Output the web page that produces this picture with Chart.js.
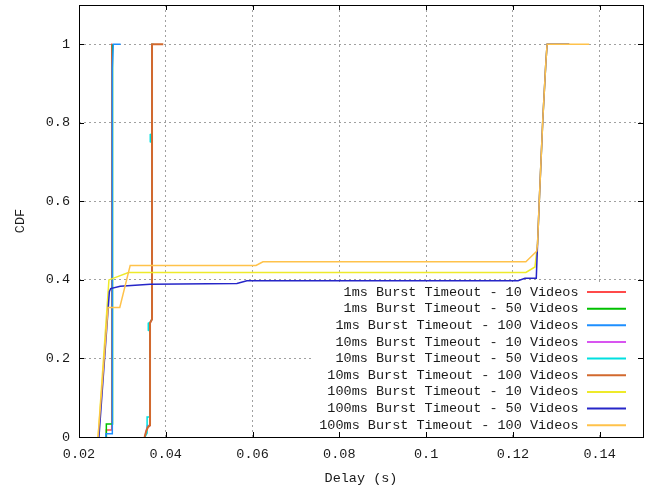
<!DOCTYPE html>
<html>
<head>
<meta charset="utf-8">
<title>Delay CDF</title>
<script src="https://cdn.jsdelivr.net/npm/chart.js@4.4.0/dist/chart.umd.min.js"></script>
<style>
  html, body { margin: 0; padding: 0; background: #fff; }
  #wrap { width: 653px; height: 491px; }
</style>
</head>
<body>
<div id="wrap"><canvas id="cdf" width="653" height="491"></canvas></div>
<script>
// Axis ticks
const xTickValues = [0.02, 0.04, 0.06, 0.08, 0.10, 0.12, 0.14];
const xTickLabels = ['0.02', '0.04', '0.06', '0.08', '0.1', '0.12', '0.14'];
const yTickValues = [0, 0.2, 0.4, 0.6, 0.8, 1.0];
const yTickLabels = ['0', '0.2', '0.4', '0.6', '0.8', '1'];

// Series names, in plotting order
const seriesNames = [
  '1ms Burst Timeout - 10 Videos',
  '1ms Burst Timeout - 50 Videos',
  '1ms Burst Timeout - 100 Videos',
  '10ms Burst Timeout - 10 Videos',
  '10ms Burst Timeout - 50 Videos',
  '10ms Burst Timeout - 100 Videos',
  '100ms Burst Timeout - 10 Videos',
  '100ms Burst Timeout - 50 Videos',
  '100ms Burst Timeout - 100 Videos'
];

// CDF curves: delay (s) and cumulative fraction
const delay1ms10   = [0.0263, 0.0263, 0.02755, 0.02755, 0.0277];
const cdf1ms10     = [0, 0.018, 0.018, 1, 1];
const delay1ms50   = [0.0263, 0.0263, 0.02765, 0.02765, 0.0278];
const cdf1ms50     = [0, 0.033, 0.033, 1, 1];
const delay1ms100  = [0.0262, 0.0262, 0.02768, 0.02768, 0.0279, 0.0296];
const cdf1ms100    = [0, 0.008, 0.008, 0.94, 1, 1];

const delay10ms10  = [0.0352, 0.03575, 0.03637, 0.03637, 0.03683, 0.03683, 0.0369];
const cdf10ms10    = [0, 0.029, 0.029, 0.29, 0.30, 1, 1];
const delay10ms50  = [0.0352, 0.0357, 0.0357, 0.03637, 0.03637, 0.03597, 0.03597, 0.03637, 0.03683, 0.03683, 0.03643, 0.03643, 0.03683, 0.03683, 0.0372];
const cdf10ms50    = [0, 0.01, 0.051, 0.051, 0.27, 0.272, 0.29, 0.292, 0.30, 0.75, 0.752, 0.77, 0.772, 1, 1];
const delay10ms100 = [0.03512, 0.0355, 0.0359, 0.03637, 0.03637, 0.03683, 0.03683, 0.03943];
const cdf10ms100   = [0, 0.015, 0.025, 0.03, 0.29, 0.30, 1, 1];

const delay100ms10  = [0.0244, 0.0269, 0.0314, 0.1230, 0.1251, 0.1257, 0.1261, 0.1269, 0.1276, 0.1279, 0.1330];
const cdf100ms10    = [0, 0.40, 0.419, 0.419, 0.433, 0.493, 0.603, 0.807, 0.952, 1, 1];
const delay100ms50  = [0.0246, 0.0270, 0.0273, 0.0295, 0.0364, 0.0564, 0.0587, 0.1212, 0.1228, 0.1254, 0.1257, 0.1261, 0.1269, 0.1276, 0.1279, 0.1330];
const cdf100ms50    = [0, 0.37, 0.378, 0.384, 0.389, 0.391, 0.398, 0.398, 0.404, 0.404, 0.493, 0.603, 0.807, 0.952, 1, 1];
const delay100ms100 = [0.0244, 0.0267, 0.0294, 0.0318, 0.0608, 0.0624, 0.1230, 0.1255, 0.1257, 0.1261, 0.1269, 0.1276, 0.1279, 0.1376];
const cdf100ms100   = [0, 0.33, 0.33, 0.437, 0.437, 0.446, 0.446, 0.473, 0.493, 0.603, 0.807, 0.952, 1, 1];

const seriesDelays = [delay1ms10, delay1ms50, delay1ms100, delay10ms10, delay10ms50, delay10ms100, delay100ms10, delay100ms50, delay100ms100];
const seriesCdfs   = [cdf1ms10, cdf1ms50, cdf1ms100, cdf10ms10, cdf10ms50, cdf10ms100, cdf100ms10, cdf100ms50, cdf100ms100];
const seriesColors = ['#ff4a4a', '#00c000', '#1e8fff', '#d855f0', '#00e0e0', '#d2692e', '#eeea2a', '#2626c8', '#ffc24a'];
const seriesWidths = [1.5, 1.5, 1.5, 1.5, 1.5, 2, 1.5, 1.5, 1.5];

const FONT = { family: '"Liberation Mono", "DejaVu Sans Mono", monospace', size: 13.5 };
const TEXT = '#1a1a1a';

const datasets = seriesNames.map((name, i) => ({
  label: name,
  data: seriesDelays[i].map((x, k) => ({ x: x, y: seriesCdfs[i][k] })),
  borderColor: seriesColors[i],
  backgroundColor: seriesColors[i],
  borderWidth: seriesWidths[i],
  showLine: true,
  fill: false,
  tension: 0,
  order: -i   // later series are drawn on top
}));

// Key box in the lower right of the plot, opaque, text right-aligned before the sample line
const seriesKey = {
  id: 'seriesKey',
  afterDatasetsDraw(chart) {
    const { ctx, chartArea: a } = chart;
    ctx.save();
    ctx.fillStyle = '#ffffff';
    ctx.fillRect(a.left + 233, a.bottom - 153, a.right - a.left - 234, 149);
    ctx.font = FONT.size + 'px ' + FONT.family;
    ctx.textAlign = 'right';
    ctx.textBaseline = 'middle';
    chart.data.datasets.forEach((ds, i) => {
      const y = a.bottom - 145 + i * 16.65;
      ctx.fillStyle = TEXT;
      ctx.fillText(ds.label, a.right - 64.5, y);
      ctx.strokeStyle = ds.borderColor;
      ctx.lineWidth = 2;
      ctx.beginPath();
      ctx.moveTo(a.right - 56, y);
      ctx.lineTo(a.right - 17, y);
      ctx.stroke();
    });
    ctx.restore();
  }
};

// Plot border with inward ticks on all four sides
const frameTicks = {
  id: 'frameTicks',
  afterDraw(chart) {
    const { ctx, chartArea: a, scales } = chart;
    const L = 5;
    ctx.save();
    ctx.strokeStyle = '#000';
    ctx.lineWidth = 1;
    ctx.beginPath();
    scales.x.ticks.forEach(t => {
      const px = Math.round(scales.x.getPixelForValue(t.value)) + 0.5;
      ctx.moveTo(px, a.bottom); ctx.lineTo(px, a.bottom - L);
      ctx.moveTo(px, a.top); ctx.lineTo(px, a.top + L);
    });
    scales.y.ticks.forEach(t => {
      const py = Math.round(scales.y.getPixelForValue(t.value)) + 0.5;
      ctx.moveTo(a.left, py); ctx.lineTo(a.left + L, py);
      ctx.moveTo(a.right, py); ctx.lineTo(a.right - L, py);
    });
    ctx.stroke();
    ctx.strokeRect(Math.round(a.left) + 0.5, Math.round(a.top) + 0.5,
                   Math.round(a.right - a.left), Math.round(a.bottom - a.top));
    ctx.restore();
  }
};

new Chart(document.getElementById('cdf'), {
  type: 'scatter',
  data: { datasets: datasets },
  plugins: [seriesKey, frameTicks],
  options: {
    responsive: false,
    animation: false,
    devicePixelRatio: 1,
    layout: { padding: { left: 0, right: 10, top: 5, bottom: 0 } },
    elements: { point: { radius: 0, hoverRadius: 0 }, line: { borderJoinStyle: 'miter' } },
    plugins: { legend: { display: false }, tooltip: { enabled: false } },
    scales: {
      x: {
        type: 'linear',
        min: 0.02,
        max: 0.15,
        afterBuildTicks: s => { s.ticks = xTickValues.map(v => ({ value: v })); },
        afterFit: s => { s.height = 54; s.paddingLeft = 0; s.paddingRight = 0; },
        ticks: {
          callback: (v, i) => xTickLabels[i],
          font: FONT, color: TEXT, padding: 9, maxRotation: 0, autoSkip: false
        },
        grid: { color: '#a0a0a0', lineWidth: 1, drawTicks: false },
        border: { display: false, dash: [2, 3] },
        title: { display: true, text: 'Delay (s)', font: FONT, color: TEXT, padding: { top: 0, bottom: 4 } }
      },
      y: {
        type: 'linear',
        min: 0,
        max: 1.1,
        afterBuildTicks: s => { s.ticks = yTickValues.map(v => ({ value: v })); },
        afterFit: s => { s.width = 79; s.paddingTop = 0; s.paddingBottom = 0; },
        ticks: {
          callback: (v, i) => yTickLabels[i],
          font: FONT, color: TEXT, padding: 9, autoSkip: false
        },
        grid: { color: '#a0a0a0', lineWidth: 1, drawTicks: false },
        border: { display: false, dash: [2, 3] },
        title: { display: true, text: 'CDF', font: FONT, color: TEXT, padding: { top: 12, bottom: 0 } }
      }
    }
  }
});
</script>
</body>
</html>
